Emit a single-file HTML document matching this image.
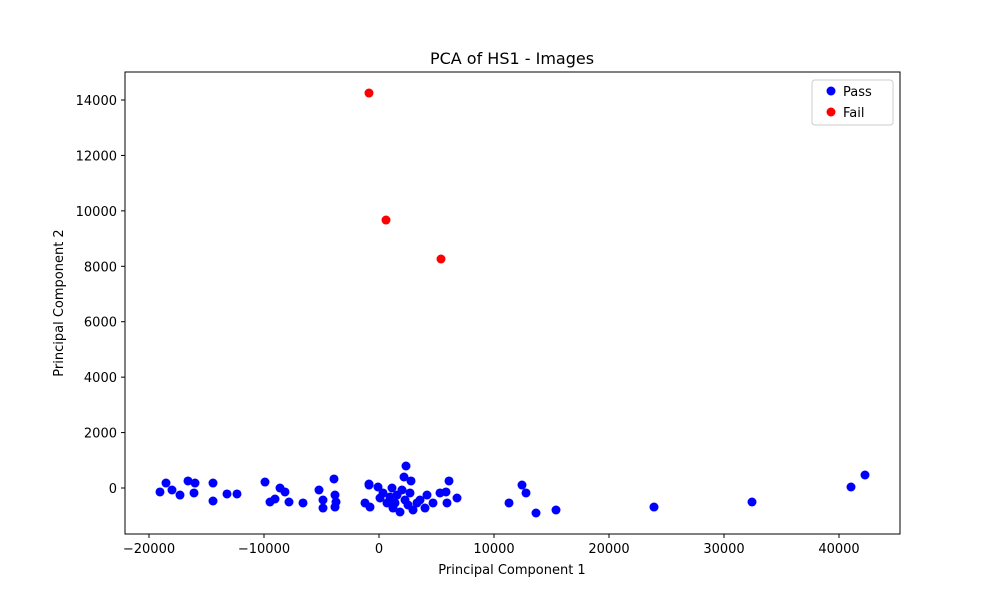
<!DOCTYPE html>
<html><head><meta charset="utf-8"><style>
body{margin:0;background:#fff}
svg text{font-family:"DejaVu Sans","Liberation Sans",sans-serif;fill:#000}
</style></head><body>
<svg id="chart" width="1000" height="600">
<rect width="1000" height="600" fill="#fff"/>
<text x="512" y="64" font-size="16" text-anchor="middle">PCA of HS1 - Images</text>
<g id="marks"></g>
<rect x="125" y="72" width="775" height="462" fill="none" stroke="#000" stroke-width="1"/>
<g id="axes"></g>
<text x="512" y="574" font-size="13" text-anchor="middle">Principal Component 1</text>
<text transform="translate(63,303) rotate(-90)" font-size="13" text-anchor="middle">Principal Component 2</text>
<g>
<rect x="812" y="80" width="81" height="45" rx="3" fill="#fff" stroke="#ccc"/>
<circle cx="831" cy="91" r="4.5" fill="#0000ff"/>
<text x="843" y="96" font-size="13">Pass</text>
<circle cx="831" cy="112" r="4.5" fill="#ff0000"/>
<text x="843" y="117" font-size="13">Fail</text>
</g>
</svg>
<script>
const passX=[-19044,-18522,-18000,-17305,-16609,-16000,-16087,-14435,-14435,-13218,-12348,-9913,-9479,-9044,-8609,-8174,-7826,-6609,-5218,-3913,-4870,-4870,-3826,-3739,-3826,-870,-1217,-783,2348,2174,2783,6087,-870,-87,1130,348,696,1565,1826,2261,2957,2696,4174,4000,4696,5305,5826,5913,6783,3304,1217,87,957,2000,1391,3565,2522,11305,12435,12783,13653,15392,23913,32435,41044,42261];
const passY=[-144,180,-72,-253,253,180,-180,180,-469,-216,-216,216,-505,-397,0,-144,-505,-541,-72,325,-433,-722,-253,-505,-686,108,-541,-686,794,397,253,253,144,36,0,-180,-541,-253,-866,-433,-794,-180,-253,-722,-541,-180,-144,-541,-361,-541,-722,-361,-325,-72,-541,-433,-613,-541,108,-180,-902,-794,-686,-505,36,469];
const failX=[-870,609,5392];
const failY=[14252,9670,8263];
const xTicks=[-20000,-10000,0,10000,20000,30000,40000];
const yTicks=[0,2000,4000,6000,8000,10000,12000,14000];
const xTickLabels=["\u221220000","\u221210000","0","10000","20000","30000","40000"];
const yTickLabels=["0","2000","4000","6000","8000","10000","12000","14000"];
const xs=v=>379+v*0.0115;
const ys=v=>488-v*0.027714;
const NS="http://www.w3.org/2000/svg";
const marks=document.getElementById('marks'),axes=document.getElementById('axes');
function pt(x,y,c,name){const e=document.createElementNS(NS,'circle');
e.setAttribute('cx',xs(x));e.setAttribute('cy',ys(y));e.setAttribute('r',4.5);e.setAttribute('fill',c);


marks.appendChild(e);}
passX.forEach((x,i)=>pt(x,passY[i],'#0000ff','pass-point'));
failX.forEach((x,i)=>pt(x,failY[i],'#ff0000','fail-point'));
xTicks.forEach((t,i)=>{const x=xs(t);
const l=document.createElementNS(NS,'line');l.setAttribute('x1',x);l.setAttribute('x2',x);l.setAttribute('y1',534);l.setAttribute('y2',538);l.setAttribute('stroke','#000');


axes.appendChild(l);
const tx=document.createElementNS(NS,'text');tx.setAttribute('x',x);tx.setAttribute('y',553);tx.setAttribute('font-size','13');tx.setAttribute('text-anchor','middle');tx.textContent=xTickLabels[i];


axes.appendChild(tx);});
yTicks.forEach((t,i)=>{const y=ys(t);
const l=document.createElementNS(NS,'line');l.setAttribute('x1',121);l.setAttribute('x2',125);l.setAttribute('y1',y);l.setAttribute('y2',y);l.setAttribute('stroke','#000');


axes.appendChild(l);
const tx=document.createElementNS(NS,'text');tx.setAttribute('x',117);tx.setAttribute('y',y+5);tx.setAttribute('font-size','13');tx.setAttribute('text-anchor','end');tx.textContent=yTickLabels[i];


axes.appendChild(tx);});
</script>
</body></html>
